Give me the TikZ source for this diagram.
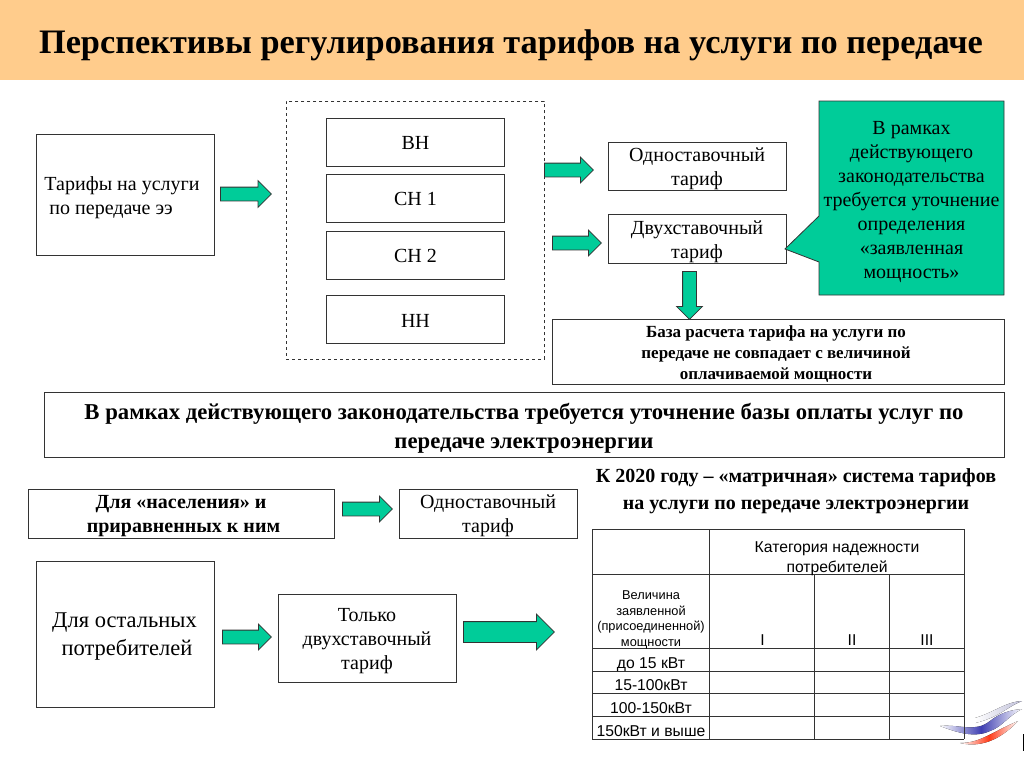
\documentclass[tikz,border=0pt]{standalone}
\usepackage{fontspec}
\setmainfont{Liberation Serif}
\newfontfamily\arialf{Liberation Sans}
\usetikzlibrary{shapes.arrows,calc}
\definecolor{band}{HTML}{FFCC8C}
\definecolor{tealc}{HTML}{00CC99}
\definecolor{edge}{HTML}{333333}
\tikzset{
 boxs/.style={draw=edge,line width=0.9pt,fill=white,inner sep=0},
 txt/.style={align=center,inner sep=0,font=\fontsize{20}{24}\selectfont},
 btxt/.style={align=center,inner sep=0,font=\fontsize{20}{24}\selectfont\bfseries},
 tab/.style={inner sep=0,align=center,font=\arialf\fontsize{15.7}{19.5}\selectfont},
 tabs/.style={inner sep=0,align=center,font=\arialf\fontsize{12.8}{15.5}\selectfont},
 tline/.style={draw=edge,line width=0.8pt},
 blockarrow/.style={single arrow,draw=edge,line width=0.8pt,fill=tealc,inner sep=0,
   single arrow head indent=0pt},
}
% name, x1,y1,x2,y2
\newcommand{\bx}[5]{\node[boxs,minimum width=#4pt-#2pt,minimum height=#5pt-#3pt,anchor=north west] (#1) at (#2,#3) {};}
% name, x1, x2, yc, shaft width, head extend
\newcommand{\arr}[6]{\node[blockarrow,minimum height=#3pt-#2pt,single arrow head extend=#6pt,anchor=west] (#1) at (#2,#4) {\rule{0pt}{#5pt}};}
\begin{document}
\begin{tikzpicture}[x=1pt,y=-1pt]
\useasboundingbox (0,0) rectangle (1024,768);
\fill[band] (0,0) rectangle (1024,80);
\node[inner sep=0,font=\fontsize{34.3}{36}\selectfont\bfseries] (title) at (511,45) {Перспективы регулирования тарифов на услуги по передаче};

% left
\bx{tar}{36}{134}{214}{255}
\node[txt,align=left] (tart) at (122,198) {Тарифы на услуги\\\hspace*{5pt}по передаче ээ};
\arr{a1}{220}{271}{194}{13}{6.5}

% dashed group
\node[draw=edge,dashed,line width=0.8pt,minimum width=258pt,minimum height=258pt,anchor=north west,inner sep=0] (grp) at (286,101) {};
\bx{vn}{326}{118}{504}{166}
\bx{sn1}{326}{174}{504}{222}
\bx{sn2}{326}{231}{504}{279}
\bx{nn}{326}{295}{504}{343}
\node[txt,yshift=-1pt] (vnt) at (vn.center) {ВН};
\node[txt,yshift=-1pt] (sn1t) at (sn1.center) {СН 1};
\node[txt,yshift=-1pt] (sn2t) at (sn2.center) {СН 2};
\node[txt,yshift=-1pt] (nnt) at (nn.center) {НН};

% tariffs
\arr{a2}{544}{593}{170}{13}{6}
\arr{a3}{552}{601}{243}{13}{6}
\bx{odn}{608}{142}{786}{190}
\bx{dvu}{608}{214}{786}{263}
\node[txt] (odnt) at (697,169) {Одноставочный\\тариф};
\node[txt] (dvut) at (697,242) {Двухставочный\\тариф};

% callout
\coordinate (calltip) at (785,249);
\path[draw=edge,line width=0.8pt,fill=tealc] (819,101) -- (1004,101) -- (1004,295) -- (819,295) -- (819,262) -- (calltip) -- (819,216) -- cycle;
\node[txt] (callt) at (911.5,202) {В рамках\\действующего\\законодательства\\требуется уточнение\\определения\\«заявленная\\мощность»};

% base
\bx{baz}{552}{319}{1004}{384}
\node[btxt,font=\fontsize{17}{20.6}\selectfont\bfseries] (bazt) at (776,354) {База расчета тарифа на услуги по\\передаче не совпадает с величиной\\оплачиваемой мощности};
\node[blockarrow,rotate=-90,minimum height=48pt,single arrow head extend=6pt,anchor=west] (a4) at (689.5,271) {\rule{0pt}{13pt}};

% wide
\bx{wide}{44}{392}{1004}{457}
\node[btxt,font=\fontsize{22.7}{29}\selectfont\bfseries] (widet) at (524,428.5) {В рамках действующего законодательства требуется уточнение базы оплаты услуг по\\передаче электроэнергии};

% pop
\bx{pop}{28}{489}{334}{538}
\node[btxt] (popt) at (181,516) {Для «населения» и\\\hspace*{5pt}приравненных к ним};
\arr{a5}{342}{392}{509}{13}{6}
\bx{odn2}{399}{489}{577}{538}
\node[txt] (odn2t) at (488,516) {Одноставочный\\тариф};

% heading
\node[btxt,font=\fontsize{20}{26.5}\selectfont\bfseries] (headt) at (796,491) {К 2020 году – «матричная» система тарифов\\на услуги по передаче электроэнергии};

% rest
\bx{rest}{36}{561}{214}{707}
\node[txt,font=\fontsize{22.5}{28}\selectfont] (restt) at (124.5,637) {Для остальных\\\hspace*{5pt}потребителей};
\arr{a6}{222}{271}{637}{13}{6}
\bx{two}{278}{594}{456}{682}
\node[txt] (twot) at (367,641) {Только\\двухставочный\\тариф};
\arr{a7}{463}{554}{632}{20}{7.5}

% logo
\fill[left color=white,right color=blue!40!black!25] (975,718) .. controls (995,712) and (1005,702) .. (1022,701) .. controls (1005,708) and (1000,717) .. (975,723) -- cycle;
\fill[left color=white,right color=white,middle color=blue!60!black!75] (940,726) .. controls (960,724) and (975,733) .. (990,721) .. controls (1000,713) and (1010,710) .. (1022,709) .. controls (1008,716) and (1002,727) .. (990,731) .. controls (975,738) and (958,733) .. (940,726) -- cycle;
\fill[left color=white,right color=white,middle color=red!70!orange!90] (960,743) .. controls (980,743) and (990,733) .. (1018,721) .. controls (1005,735) and (985,749) .. (960,743) -- cycle;
\fill[black] (1023,734) rectangle (1024,751);

% table
\foreach \n/\yy in {0/529,1/574,2/648,3/671,4/693,5/716,6/739}{\coordinate (h\n) at (592,\yy); \coordinate (k\n) at (964,\yy); \draw[tline] (h\n) -- (k\n);}
\foreach \n/\xx/\ya in {0/592/529,1/709/529,4/964/529,2/814/574,3/889/574}{\coordinate (vt\n) at (\xx,\ya); \coordinate (vb\n) at (\xx,739); \draw[tline] (vt\n) -- (vb\n);}
\node[tab] (cat) at (837,558.5) {Категория надежности\\потребителей};
\node[tabs] (vel) at (651,620) {Величина\\заявленной\\(присоединенной)\\мощности};
\node[tab,anchor=base] (c1) at (762.5,645.5) {I};
\node[tab,anchor=base] (c2) at (852,645.5) {II};
\node[tab,anchor=base] (c3) at (927,645.5) {III};
\node[tab,anchor=base] (r1) at (651,668) {до 15 кВт};
\node[tab,anchor=base] (r2) at (651,690) {15-100кВт};
\node[tab,anchor=base] (r3) at (651,713) {100-150кВт};
\node[tab,anchor=base] (r4) at (651,736) {150кВт и выше};
\end{tikzpicture}
\end{document}
